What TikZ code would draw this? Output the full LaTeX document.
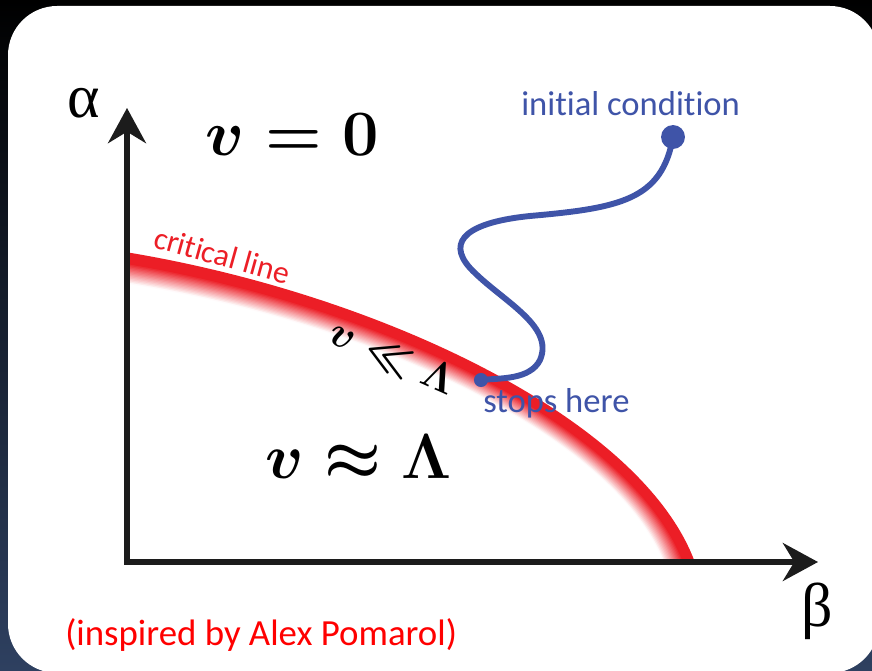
\documentclass[tikz,border=0pt]{standalone}
\usepackage{amsmath, amssymb}
\usepackage{graphicx}
\usepackage{fontspec}
\newfontfamily\labelfont[Ligatures=NoCommon]{Carlito}
\newfontfamily\greekfont{Liberation Serif}
\usepackage{tikz}
\usetikzlibrary{arrows.meta, positioning}
\definecolor{navyBg}{RGB}{46, 64, 96}
\definecolor{critRed}{RGB}{236, 30, 38}
\definecolor{flowBlue}{RGB}{63, 84, 168}
\definecolor{axisGray}{RGB}{28, 28, 28}

\begin{document}
\begin{tikzpicture}[x=0.025cm, y=-0.025cm,
  >={Stealth[length=25pt, width=27pt]},
  axis/.style={draw=axisGray, line width=3.6pt, line join=miter},
  blabel/.style={anchor=base west, inner sep=0pt, text=flowBlue,
    font=\labelfont\fontsize{24.6}{28}\selectfont},
  mathlbl/.style={inner sep=0pt, font=\boldmath\Huge},
  greek/.style={inner sep=0pt, font=\greekfont\fontsize{44}{50}\selectfont},
  dot/.style={circle, fill=flowBlue, inner sep=0pt}]
  \useasboundingbox (0,0) rectangle (872,670);
  \shade[top color=black, bottom color=navyBg] (0,0) rectangle (872,670);
  \fill[white, rounded corners=35pt] (8,6) rectangle (879,673);

  \coordinate (origin) at (127,562);
  \coordinate (ytip) at (127,108);
  \coordinate (xtip) at (818,562);

  \foreach \i in {20,19,...,0}{
    \pgfmathsetmacro{\sx}{1-1.4*\i/566}
    \pgfmathsetmacro{\sy}{1-1.4*\i/308}
    \pgfmathtruncatemacro{\pc}{\i<7 ? 100 : 100-(\i-6)*7}
    \begin{scope}[shift={(origin)}, xscale=\sx, yscale=\sy]
      \draw[critRed!\pc!white, line width=2.4pt]
        (0,-308) .. controls (253,-266) and (513,-142) .. (566,0);
    \end{scope}
  }

  \draw[axis, <->] (ytip) -- (origin) -- (xtip);

  \node[greek] (alpha) at (84,103) {α};
  \node[greek] (beta) at (817,611) {β};

  \node[mathlbl, anchor=base west] (vzero) at (205,155) {\scalebox{1.85}{$v = 0$}};
  \node[mathlbl, anchor=base west] (vlam) at (265,478) {\scalebox{1.82}{$v \approx \Lambda$}};
  \node[mathlbl, rotate=-24] (vll) at (393,357) {\scalebox{1.2}{$v \ll \Lambda$}};

  \node[anchor=base west, inner sep=0pt, rotate=-15.5, text=critRed,
    font=\labelfont\fontsize{22.5}{26}\selectfont] (crit) at (152,247) {critical line};

  \node[blabel] (initlbl) at (521,115) {initial condition};
  \node[blabel] (stoplbl) at (483,412) {stops here};

  \node[dot, minimum size=17pt] (init) at (673,137) {};
  \node[dot, minimum size=10pt] (stop) at (481,380) {};
  \draw[flowBlue, line width=4.2pt, line cap=round]
    (init.center) .. controls (662,200) and (620,208) .. (530,216)
    .. controls (470,222) and (445,240) .. (470,268)
    .. controls (500,300) and (555,325) .. (540,360)
    .. controls (530,380) and (500,378) .. (stop.center);

  \node[anchor=base west, inner sep=0pt, text=red,
    font=\labelfont\fontsize{26.2}{30}\selectfont] (credit) at (65,645)
    {(inspired by Alex Pomarol)};
\end{tikzpicture}
\end{document}
